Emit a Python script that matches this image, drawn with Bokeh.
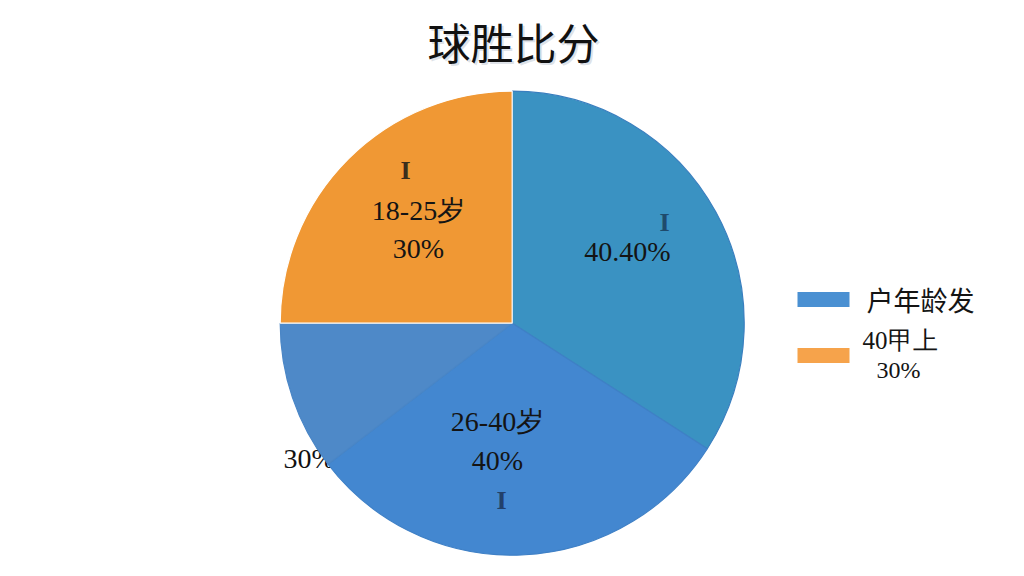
import numpy as np
from bokeh.plotting import figure
from bokeh.models import Range1d, ColumnDataSource
from bokeh.core.properties import value
from bokeh.embed import file_html
from bokeh.resources import INLINE

# ---- data ----
slice_names = ["户年龄发", "26-40岁", "其他", "18-25岁"]
slice_values = [34.1, 30.5, 10.4, 25.0]
slice_colors = ["#3A92C2", "#4387D0", "#4E89C8", "#F09834"]
slice_edges = ["#3A7FBF", "#3F80C6", "#4A86C6", "#FFFFFF"]

title_text = "球胜比分"
inner_labels = ["18-25岁", "30%", "40.40%", "26-40岁", "40%"]
cursor_marks = ["I", "I", "I"]
legend_labels = ["户年龄发", "40甲上", "30%"]
legend_colors = ["#4A90D2", "#F6A34B"]

W, H = 1008, 560


def X(ix):
    return ix


def Y(iy):
    return H - iy


p = figure(width=W, height=H, output_backend="svg", toolbar_location=None,
           x_range=Range1d(0, W), y_range=Range1d(0, H), min_border=0)
p.axis.visible = False
p.grid.visible = False
p.outline_line_color = None
p.background_fill_color = "white"
p.border_fill_color = "white"

serif = value("Liberation Serif")
sans = value("Noto Sans CJK SC")

# hidden label partially covered by the pie (drawn first)
p.text(x=[X(283)], y=[Y(458)], text=["30%"], text_font=serif, text_font_size="28px",
       text_align="left", text_baseline="middle", text_color="#111111")

# ---- pie ----
vals = np.array(slice_values, dtype=float)
frac = vals / vals.sum()
cum = np.concatenate([[0.0], np.cumsum(frac)])
start = np.pi / 2 - cum[1:] * 2 * np.pi
end = np.pi / 2 - cum[:-1] * 2 * np.pi
src = ColumnDataSource(dict(start=start, end=end, color=slice_colors,
                            edge=slice_edges, name=slice_names))
cx, cy, r = X(511.7), Y(322.7), 232
p.wedge(x=cx, y=cy, radius=r, start_angle="start", end_angle="end",
        fill_color="color", line_color="edge", line_width=1.2, source=src)

# ---- title ----
p.text(x=[X(515)], y=[Y(42)], text=[title_text], text_font=sans, text_font_size="43px",
       text_align="center", text_baseline="middle", text_color="#cfd6de", text_alpha=0.7)
p.text(x=[X(513)], y=[Y(40)], text=[title_text], text_font=sans, text_font_size="43px",
       text_align="center", text_baseline="middle", text_color="#111111")

# ---- slice labels ----
lab_x = [X(418), X(418), X(627), X(497), X(497)]
lab_y = [Y(210), Y(248), Y(251), Y(421), Y(460)]
p.text(x=lab_x, y=lab_y, text=inner_labels, text_font=serif, text_font_size="28px",
       text_align="center", text_baseline="middle", text_color="#141414")

p.text(x=[X(405), X(664), X(501)], y=[Y(170), Y(222), Y(500)], text=cursor_marks,
       text_font=serif, text_font_size="26px", text_align="center", text_baseline="middle",
       text_color=["#3b2d1c", "#1f4a6c", "#22406a"], text_font_style="bold")

# ---- legend ----
p.rect(x=[X(823), X(823)], y=[Y(299), Y(355)], width=52, height=15,
       fill_color=legend_colors, line_color=None)
p.text(x=[X(866)], y=[Y(299)], text=[legend_labels[0]], text_font=sans, text_font_size="27px",
       text_align="left", text_baseline="middle", text_color="#141414")
p.text(x=[X(862)], y=[Y(340)], text=[legend_labels[1]], text_font=serif, text_font_size="25px",
       text_align="left", text_baseline="middle", text_color="#141414")
p.text(x=[X(876)], y=[Y(369)], text=[legend_labels[2]], text_font=serif, text_font_size="24px",
       text_align="left", text_baseline="middle", text_color="#141414")

open("out.html", "w").write(file_html(p, INLINE))
